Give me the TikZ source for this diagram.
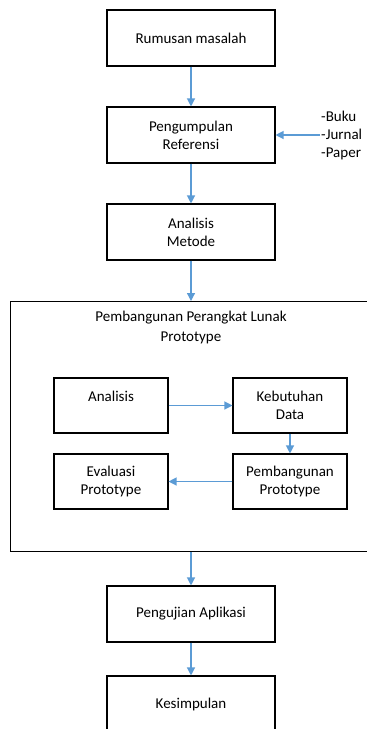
\documentclass[tikz,border=0pt]{standalone}
\usepackage{fontspec}
\setmainfont{Carlito}
\usepackage{xcolor}
\definecolor{panahbiru}{HTML}{5B9BD5}
\usetikzlibrary{arrows.meta,positioning}

\begin{document}
\begin{tikzpicture}[x=1pt, y=-1pt,
  kotak/.style={draw, line width=1.1pt, minimum width=168pt, minimum height=56pt,
                align=center, font=\fontsize{15}{18}\selectfont},
  kecil/.style={kotak, minimum width=114pt, minimum height=55pt},
  panah/.style={-{Triangle[width=8pt,length=8pt]}, panahbiru, line width=1.2pt}]
  \useasboundingbox (0,0) rectangle (367,729);
  \clip (0,0) rectangle (367,729);
  % alur utama
  \node[kotak] (rumusan) at (191,38)  {Rumusan masalah};
  \node[kotak] (pustaka) at (191,135) {Pengumpulan\\Referensi};
  \node[kotak] (metode)  at (191,232) {Analisis\\Metode};
  \node[align=left, inner sep=1pt, font=\fontsize{15}{18}\selectfont, anchor=west]
    (sumber) at (320,135) {-Buku\\-Jurnal\\-Paper};
  % kotak besar pembangunan
  \node[draw, line width=1.1pt, minimum width=390pt, minimum height=250pt,
        anchor=north west] (bangun) at (10,301) {};
  \node[align=center, font=\fontsize{15}{20}\selectfont] (judul) at (191,327)
    {Pembangunan Perangkat Lunak\\Prototype};
  \node[kecil] (analisis)  at (111,405.5) {Analisis\\~};
  \node[kecil] (kebutuhan) at (290,405.5) {Kebutuhan\\Data};
  \node[kecil] (evaluasi)  at (111,481.5) {Evaluasi\\Prototype};
  \node[kecil] (prototipe) at (290,481.5) {Pembangunan\\Prototype};
  % akhir
  \node[kotak] (pengujian)  at (191,614) {Pengujian Aplikasi};
  \node[kotak] (kesimpulan) at (191,704) {Kesimpulan};
  % panah
  \draw[panah] (rumusan) -- (pustaka);
  \draw[panah] (sumber.west) -- (pustaka.east);
  \draw[panah] (pustaka) -- (metode);
  \draw[panah] (metode) -- (metode |- bangun.north);
  \draw[panah] (analisis) -- (kebutuhan);
  \draw[panah] (kebutuhan) -- (prototipe);
  \draw[panah] (prototipe) -- (evaluasi);
  \draw[panah] (pengujian |- bangun.south) -- (pengujian);
  \draw[panah] (pengujian) -- (kesimpulan);
\end{tikzpicture}
\end{document}
